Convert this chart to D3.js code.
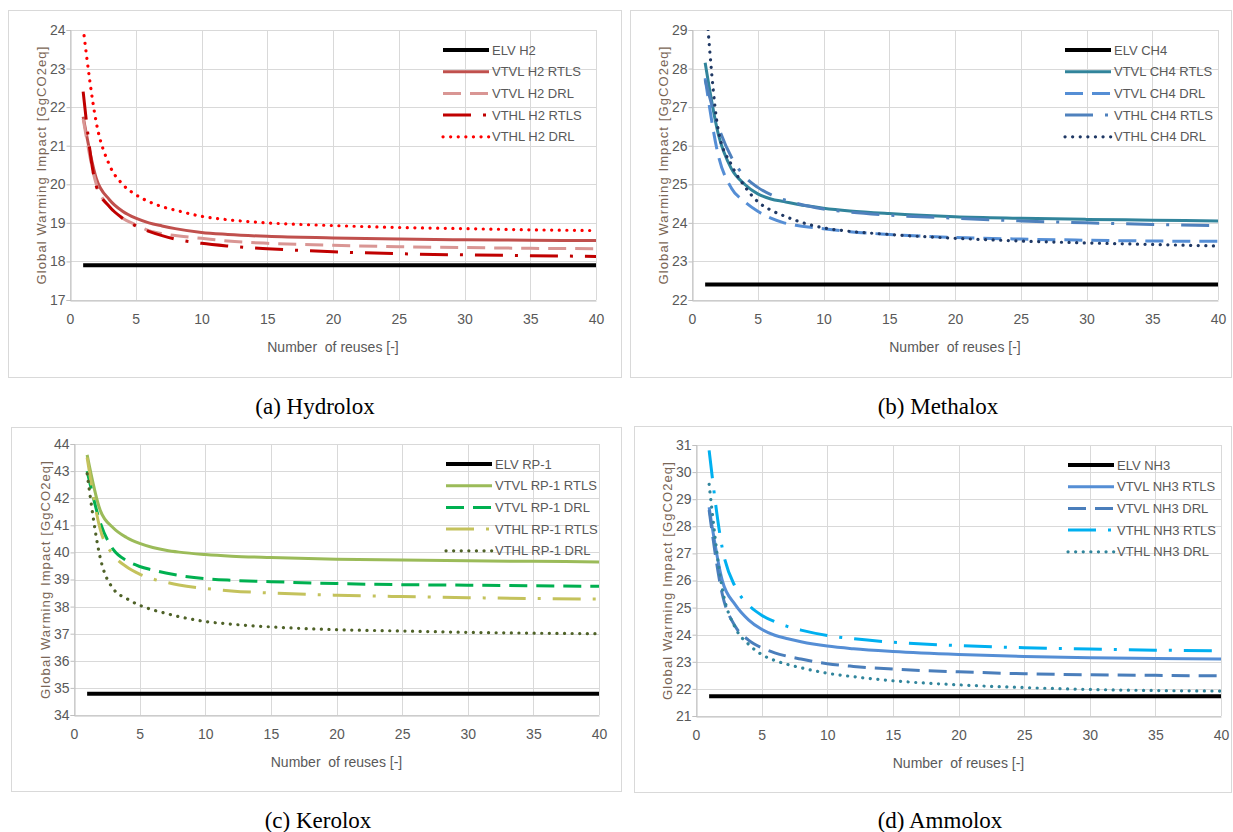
<!DOCTYPE html>
<html>
<head>
<meta charset="utf-8">
<script src="https://cdn.jsdelivr.net/npm/d3@7"></script>
<style>
  body { margin: 0; background: #fff; }
  svg { display: block; }
</style>
</head>
<body>
<div class="chart"></div>
<script>
let reuses = [1, 2, 3, 4, 5, 6, 7, 8, 10, 12, 15, 20, 25, 30, 35, 40]
let elvReuses = [1, 40]
let xTicks = [0, 5, 10, 15, 20, 25, 30, 35, 40]

// (a) Hydrolox
let h2Labels = ['ELV H2', 'VTVL H2 RTLS', 'VTVL H2 DRL', 'VTHL H2 RTLS', 'VTHL H2 DRL']
let h2Elv = [17.9, 17.9]
let h2VtvlRtls = [21.75, 20.15, 19.6, 19.3, 19.12, 19.0, 18.92, 18.85, 18.75, 18.7, 18.65, 18.61, 18.58, 18.56, 18.55, 18.54]
let h2VtvlDrl = [21.7, 20.0, 19.42, 19.12, 18.95, 18.8, 18.72, 18.67, 18.6, 18.53, 18.47, 18.42, 18.38, 18.36, 18.34, 18.33]
let h2VthlRtls = [22.4, 19.95, 19.42, 19.12, 18.92, 18.78, 18.67, 18.58, 18.47, 18.4, 18.33, 18.25, 18.2, 18.17, 18.15, 18.13]
let h2VthlDrl = [24.05, 21.6, 20.5, 20.0, 19.73, 19.55, 19.42, 19.33, 19.17, 19.08, 19.0, 18.93, 18.88, 18.85, 18.82, 18.8]
let h2Ticks = [17, 18, 19, 20, 21, 22, 23, 24]

// (b) Methalox
let ch4Labels = ['ELV CH4', 'VTVL CH4 RTLS', 'VTVL CH4 DRL', 'VTHL CH4 RTLS', 'VTHL CH4 DRL']
let ch4Elv = [22.4, 22.4]
let ch4VtvlRtls = [28.15, 26.3, 25.4, 25.0, 24.75, 24.62, 24.55, 24.48, 24.38, 24.31, 24.24, 24.16, 24.12, 24.09, 24.07, 24.05]
let ch4VtvlDrl = [27.75, 25.75, 24.9, 24.55, 24.3, 24.12, 24.0, 23.93, 23.85, 23.77, 23.7, 23.62, 23.58, 23.55, 23.53, 23.52]
let ch4VthlRtls = [27.7, 26.5, 25.7, 25.2, 24.92, 24.73, 24.6, 24.5, 24.36, 24.28, 24.2, 24.12, 24.05, 24.0, 23.96, 23.93]
let ch4VthlDrl = [30.0, 26.4, 25.5, 24.95, 24.55, 24.33, 24.18, 24.05, 23.87, 23.78, 23.7, 23.6, 23.53, 23.48, 23.44, 23.4]
let ch4Ticks = [22, 23, 24, 25, 26, 27, 28, 29]

// (c) Kerolox
let rp1Labels = ['ELV RP-1', 'VTVL RP-1 RTLS', 'VTVL RP-1 DRL', 'VTHL RP-1 RTLS', 'VTHL RP-1 DRL']
let rp1Elv = [34.78, 34.78]
let rp1VtvlRtls = [43.6, 41.55, 40.9, 40.55, 40.33, 40.18, 40.08, 40.01, 39.92, 39.86, 39.81, 39.75, 39.72, 39.69, 39.67, 39.65]
let rp1VtvlDrl = [43.0, 41.1, 40.1, 39.7, 39.48, 39.35, 39.24, 39.15, 39.03, 38.97, 38.92, 38.85, 38.81, 38.79, 38.77, 38.75]
let rp1VthlRtls = [43.5, 40.85, 39.9, 39.47, 39.2, 39.02, 38.9, 38.8, 38.67, 38.58, 38.5, 38.42, 38.37, 38.33, 38.3, 38.28]
let rp1VthlDrl = [42.9, 39.8, 38.65, 38.3, 38.05, 37.88, 37.75, 37.63, 37.45, 37.35, 37.25, 37.15, 37.1, 37.05, 37.02, 37.0]
let rp1Ticks = [34, 35, 36, 37, 38, 39, 40, 41, 42, 43, 44]

// (d) Ammolox
let nh3Labels = ['ELV NH3', 'VTVL NH3 RTLS', 'VTVL NH3 DRL', 'VTHL NH3 RTLS', 'VTHL NH3 DRL']
let nh3Elv = [21.73, 21.73]
let nh3VtvlRtls = [28.7, 26.0, 25.1, 24.55, 24.2, 23.98, 23.85, 23.74, 23.58, 23.48, 23.38, 23.27, 23.2, 23.15, 23.12, 23.1]
let nh3VtvlDrl = [28.6, 25.5, 24.3, 23.8, 23.52, 23.33, 23.2, 23.1, 22.93, 22.83, 22.73, 22.63, 22.56, 22.52, 22.5, 22.48]
let nh3VthlRtls = [30.8, 27.2, 25.75, 25.1, 24.72, 24.48, 24.3, 24.17, 23.97, 23.85, 23.72, 23.6, 23.52, 23.47, 23.43, 23.4]
let nh3VthlDrl = [29.55, 25.7, 24.25, 23.65, 23.27, 23.05, 22.9, 22.78, 22.58, 22.45, 22.3, 22.15, 22.05, 21.98, 21.94, 21.92]
let nh3Ticks = [21, 22, 23, 24, 25, 26, 27, 28, 29, 30, 31]

// line styles shared by the five series of every panel
let styles = [
  {w: 4, dash: null, cap: 'butt'},
  {w: 3, dash: null, cap: 'butt'},
  {w: 3, dash: '18 9', cap: 'butt'},
  {w: 3, dash: '28 12 3 12', cap: 'butt'},
  {w: 3.2, dash: '0.1 7.5', cap: 'round'}
]

let panels = [
  {caption: '(a) Hydrolox', frame: [8, 10, 621, 377], plot: [70, 30, 596, 300], cap: [315, 406],
   yDomain: [17, 24], yTicks: h2Ticks, labels: h2Labels,
   series: [h2Elv, h2VtvlRtls, h2VtvlDrl, h2VthlRtls, h2VthlDrl],
   colors: ['#000000', '#c0504d', '#d99694', '#c00000', '#ff0000']},
  {caption: '(b) Methalox', frame: [630, 10, 1231, 377], plot: [692, 30, 1218, 300], cap: [938, 406],
   yDomain: [22, 29], yTicks: ch4Ticks, labels: ch4Labels,
   series: [ch4Elv, ch4VtvlRtls, ch4VtvlDrl, ch4VthlRtls, ch4VthlDrl],
   colors: ['#000000', '#31849b', '#558ed5', '#4f81bd', '#1f3864']},
  {caption: '(c) Kerolox', frame: [11, 427, 621, 791], plot: [74, 444, 599, 715], cap: [318, 820],
   yDomain: [34, 44], yTicks: rp1Ticks, labels: rp1Labels,
   series: [rp1Elv, rp1VtvlRtls, rp1VtvlDrl, rp1VthlRtls, rp1VthlDrl],
   colors: ['#000000', '#9bbb59', '#00b050', '#c4c25c', '#4f6228']},
  {caption: '(d) Ammolox', frame: [634, 426, 1231, 792], plot: [696, 445, 1221, 716], cap: [940, 820],
   yDomain: [21, 31], yTicks: nh3Ticks, labels: nh3Labels,
   series: [nh3Elv, nh3VtvlRtls, nh3VtvlDrl, nh3VthlRtls, nh3VthlDrl],
   colors: ['#000000', '#558ed5', '#4a7ebb', '#00b0f0', '#31859c']}
]

let w = 1233, h = 832
let font = "'Liberation Sans', Arial, sans-serif"
let svg = d3.select('.chart').append('svg').attr('width', w).attr('height', h)

panels.forEach((p, pi) => {
  let [x0, y0, x1, y1] = p.plot
  let xScale = d3.scaleLinear().domain([0, 40]).range([x0, x1])
  let yScale = d3.scaleLinear().domain(p.yDomain).range([y1, y0])

  // outer chart frame
  svg.append('rect').attr('x', p.frame[0] + 0.5).attr('y', p.frame[1] + 0.5)
    .attr('width', p.frame[2] - p.frame[0]).attr('height', p.frame[3] - p.frame[1])
    .attr('fill', '#fff').attr('stroke', '#d9d9d9')

  let g = svg.append('g')
  // gridlines
  g.selectAll('.hg').data(p.yTicks).enter().append('line')
    .attr('x1', x0).attr('x2', x1)
    .attr('y1', d => Math.round(yScale(d)) + 0.5).attr('y2', d => Math.round(yScale(d)) + 0.5)
    .attr('stroke', '#d9d9d9')
  g.selectAll('.vg').data(xTicks).enter().append('line')
    .attr('y1', y0).attr('y2', y1)
    .attr('x1', d => Math.round(xScale(d)) + 0.5).attr('x2', d => Math.round(xScale(d)) + 0.5)
    .attr('stroke', '#d9d9d9')

  // axes
  let xAxis = d3.axisBottom(xScale).tickValues(xTicks).tickSize(0).tickPadding(14)
  let yAxis = d3.axisLeft(yScale).tickValues(p.yTicks).tickFormat(d3.format('d')).tickSize(4).tickPadding(1)
  let gx = g.append('g').attr('transform', 'translate(0,' + (Math.round(y1) + 0.5) + ')').call(xAxis)
  let gy = g.append('g').attr('transform', 'translate(' + (Math.round(x0) + 0.5) + ',0)').call(yAxis)
  ;[gx, gy].forEach(a => {
    a.select('.domain').attr('stroke', '#bfbfbf')
    a.selectAll('.tick line').attr('stroke', '#bfbfbf')
    a.selectAll('text').attr('fill', '#595959').style('font-family', font).style('font-size', '14px')
  })

  // lines, clipped to the plot area
  let clipId = 'clip' + pi
  svg.append('clipPath').attr('id', clipId).append('rect')
    .attr('x', x0).attr('y', y0).attr('width', x1 - x0).attr('height', y1 - y0)
  let line = d3.line().x(d => xScale(d[0])).y(d => yScale(d[1])).curve(d3.curveMonotoneX)
  let lg = g.append('g').attr('clip-path', 'url(#' + clipId + ')')
  p.series.forEach((vals, i) => {
    let xs = i === 0 ? elvReuses : reuses
    let pts = vals.map((v, k) => [xs[k], v])
    let s = styles[i]
    lg.append('path').datum(pts).attr('d', line)
      .attr('fill', 'none').attr('stroke', p.colors[i]).attr('stroke-width', s.w)
      .attr('stroke-dasharray', s.dash).attr('stroke-linecap', s.cap)
  })

  // legend
  let lgx = x1 - 153, lgy = y0 + 20
  p.labels.forEach((lab, i) => {
    let s = styles[i]
    let yy = lgy + i * 21.7
    g.append('line').attr('x1', lgx).attr('x2', lgx + 46).attr('y1', yy).attr('y2', yy)
      .attr('stroke', p.colors[i]).attr('stroke-width', s.w)
      .attr('stroke-dasharray', s.dash).attr('stroke-linecap', s.cap)
    g.append('text').attr('x', lgx + 49).attr('y', yy).attr('dy', '0.35em')
      .text(lab).attr('fill', '#595959').style('font-family', font).style('font-size', '13px')
  })

  // axis titles
  g.append('text').attr('x', (x0 + x1) / 2).attr('y', y1 + 47).attr('dy', '0.35em')
    .attr('text-anchor', 'middle').text('Number  of reuses [-]')
    .attr('fill', '#595959').style('font-family', font).style('font-size', '14px')
    .style('white-space', 'pre')
  g.append('text').attr('transform', 'translate(' + (x0 - 29) + ',' + ((y0 + y1) / 2) + ') rotate(-90)')
    .attr('text-anchor', 'middle').attr('dy', '0.35em').text('Global Warming Impact [GgCO2eq]')
    .attr('fill', '#7a6656').style('font-family', font)
    .style('font-size', '13px').style('letter-spacing', '1.1px')

  // caption under the chart
  svg.append('text').attr('x', p.cap[0]).attr('y', p.cap[1]).attr('dy', '0.35em')
    .attr('text-anchor', 'middle').text(p.caption)
    .attr('fill', '#000').style('font-family', "'Liberation Serif', 'Times New Roman', serif")
    .style('font-size', '23px')
})
</script>
</body>
</html>
